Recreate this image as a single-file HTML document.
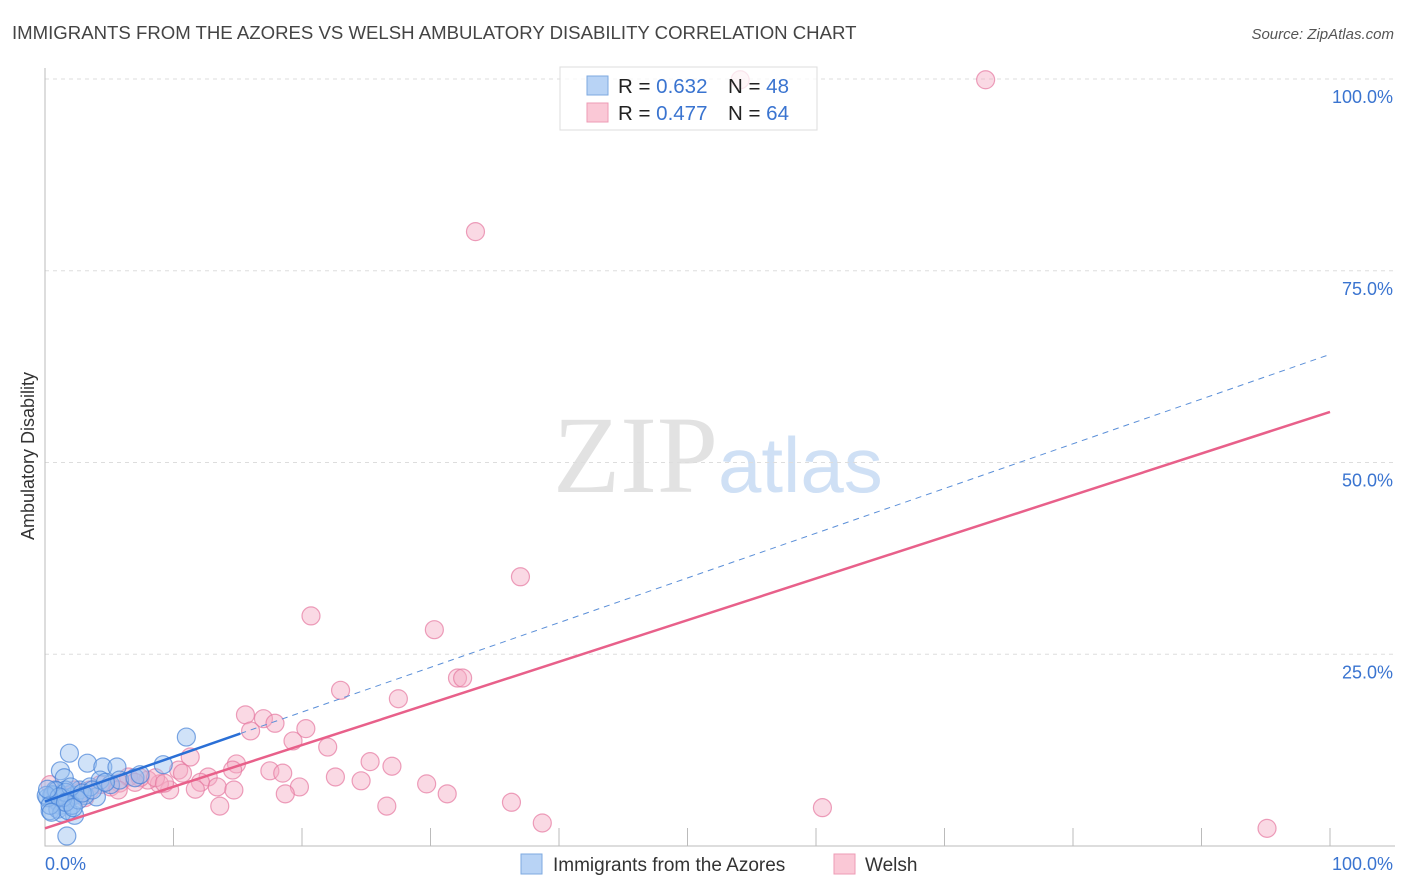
<!DOCTYPE html>
<html><head><meta charset="utf-8"><style>
body{margin:0;background:#fff;font-family:"Liberation Sans",sans-serif}
#wrap{position:relative;width:1406px;height:892px;overflow:hidden}
</style></head><body><div id="wrap">
<svg id="svg" width="1406" height="892" xmlns="http://www.w3.org/2000/svg">
<text x="12" y="39" font-size="18.6" fill="#444">IMMIGRANTS FROM THE AZORES VS WELSH AMBULATORY DISABILITY CORRELATION CHART</text>
<text x="1394" y="39" font-size="15" fill="#555" font-style="italic" text-anchor="end">Source: ZipAtlas.com</text>
<text transform="translate(34,456) rotate(-90)" font-size="18" fill="#333" text-anchor="middle">Ambulatory Disability</text>
<g><text x="553" y="492" font-size="110" font-family="Liberation Serif,serif" fill="#e2e2e2">ZIP</text><text x="718" y="492" font-size="78" fill="#cfe0f5">atlas</text></g>
<g id="grid"></g><g id="axes"></g><g id="pts"></g><g id="lines"></g>
<g>
<rect x="560" y="67" width="257" height="63" fill="rgba(255,255,255,0.75)" stroke="#ddd"/>
<rect x="587" y="76" width="21" height="19" fill="#b8d3f5" stroke="#7ea9e0"/>
<rect x="587" y="103" width="21" height="19" fill="#fac8d6" stroke="#ee9bb5"/>
<text x="618" y="93" font-size="20.5" fill="#222">R = <tspan fill="#3a74d0">0.632</tspan><tspan x="728">N = </tspan><tspan fill="#3a74d0">48</tspan></text>
<text x="618" y="120" font-size="20.5" fill="#222">R = <tspan fill="#3a74d0">0.477</tspan><tspan x="728">N = </tspan><tspan fill="#3a74d0">64</tspan></text>
</g>
<g>
<rect x="521" y="854" width="21" height="20" fill="#b8d3f5" stroke="#7ea9e0"/>
<text x="553" y="871" font-size="19" fill="#333">Immigrants from the Azores</text>
<rect x="834" y="854" width="21" height="20" fill="#fac8d6" stroke="#ee9bb5"/>
<text x="865" y="871" font-size="19" fill="#333">Welsh</text>
</g>
</svg></div>
<script>
const yTicks=[25,50,75,100];
const yTickLabels=["25.0%","50.0%","75.0%","100.0%"];
const xTickVals=[0,10,20,30,40,50,60,70,80,90,100];
const blueX=[1.9,1.2,1.5,3.3,4.5,5.6,9.2,11.0,4.0,2.3,1.7,0.5,0.8,1.2,1.6,1.9,2.3,2.7,3.1,0.4,1.0,1.3,1.8,2.1,2.6,3.5,4.3,5.1,5.8,7.0,7.4,0.8,0.2,0.6,0.9,1.4,1.6,2.0,0.1,0.4,1.1,1.6,2.2,2.9,3.7,4.7,0.2,0.5];
const blueY=[12.1,9.8,8.9,10.8,10.3,10.3,10.6,14.2,6.4,4.0,1.3,6.6,6.0,5.3,7.3,6.3,6.6,7.3,6.6,4.6,4.8,4.3,4.6,5.3,6.0,7.7,8.6,8.0,8.6,8.9,9.3,7.3,6.3,6.7,7.2,6.3,7.0,7.7,6.6,5.3,6.4,5.7,5.0,6.9,7.3,8.3,7.4,4.4];
const pinkX=[73.2,54.1,33.5,37.0,20.7,30.3,23.0,32.1,32.5,27.5,15.6,17.0,17.9,16.0,20.3,19.3,22.0,11.3,14.9,25.3,27.0,17.5,18.5,10.4,10.7,14.6,12.7,22.6,24.6,29.7,31.3,19.8,18.7,12.1,13.4,14.7,11.7,9.7,8.9,8.0,6.5,5.8,5.1,13.6,26.6,36.3,38.7,60.5,95.1,7.4,7.0,4.3,3.5,2.7,1.9,1.2,0.4,0.8,1.6,2.3,3.1,8.6,9.3,5.7];
const pinkY=[99.9,99.9,80.1,35.1,30.0,28.2,20.3,21.9,21.9,19.2,17.1,16.6,16.0,15.0,15.3,13.7,12.9,11.6,10.7,11.0,10.4,9.8,9.5,9.9,9.5,9.9,9.0,9.0,8.5,8.1,6.8,7.7,6.8,8.3,7.7,7.3,7.4,7.3,8.1,8.6,9.0,8.2,7.7,5.2,5.2,5.7,3.0,5.0,2.3,8.9,8.3,8.0,7.3,7.0,6.6,6.3,8.0,6.0,5.7,7.3,6.3,8.9,8.2,7.3];
const blueFit=[5.8,0.583]; const blueSolidEnd=[15.2];
const pinkFit=[2.3,0.543];
const NS="http://www.w3.org/2000/svg";
const X=v=>45+v*12.85, Y=v=>846-v*7.67;
function mk(t,a,p){const e=document.createElementNS(NS,t);for(const k in a)e.setAttribute(k,a[k]);p.appendChild(e);return e;}
const grid=document.getElementById('grid'),axes=document.getElementById('axes'),pts=document.getElementById('pts'),lines=document.getElementById('lines');
yTicks.forEach((t,i)=>{
 const l=mk('line',{x1:45,x2:1395,y1:Y(t),y2:Y(t),stroke:'#ddd','stroke-dasharray':'4,4'},grid);
 
 
 const tx=mk('text',{x:1393,y:Y(t)+24,'font-size':18,fill:'#3a74d0','text-anchor':'end'},grid);
 tx.textContent=yTickLabels[i];
 
 
});
const ax=mk('path',{d:`M45 68V846H1395`,stroke:'#bbb',fill:'none'},axes);


xTickVals.forEach(v=>{
 const t=mk('line',{x1:X(v),x2:X(v),y1:828,y2:846,stroke:'#bbb'},axes);
 
 
});
const xl0=mk('text',{x:45,y:870,'font-size':18,fill:'#3a74d0'},axes);xl0.textContent='0.0%';


const xl1=mk('text',{x:1393,y:870,'font-size':18,fill:'#3a74d0','text-anchor':'end'},axes);xl1.textContent='100.0%';


pinkX.forEach((x,i)=>{
 const c=mk('circle',{cx:X(x),cy:Y(pinkY[i]),r:9,fill:'rgba(245,170,195,0.45)',stroke:'rgba(230,120,160,0.7)','stroke-width':1.2},pts);
 
 
});
blueX.forEach((x,i)=>{
 const c=mk('circle',{cx:X(x),cy:Y(blueY[i]),r:9,fill:'rgba(150,190,240,0.45)',stroke:'rgba(70,130,215,0.7)','stroke-width':1.2},pts);
 
 
});
const pl=mk('line',{x1:X(0),y1:Y(pinkFit[0]),x2:X(100),y2:Y(pinkFit[0]+pinkFit[1]*100),stroke:'#e8608a','stroke-width':2.5},lines);


const bs=mk('line',{x1:X(0),y1:Y(blueFit[0]),x2:X(blueSolidEnd[0]),y2:Y(blueFit[0]+blueFit[1]*blueSolidEnd[0]),stroke:'#2a6fd6','stroke-width':2.5},lines);


const bd=mk('line',{x1:X(blueSolidEnd[0]),y1:Y(blueFit[0]+blueFit[1]*blueSolidEnd[0]),x2:X(99.8),y2:Y(blueFit[0]+blueFit[1]*99.8),stroke:'#5b8fd8','stroke-width':1,'stroke-dasharray':'6,5'},lines);


</script></body></html>
